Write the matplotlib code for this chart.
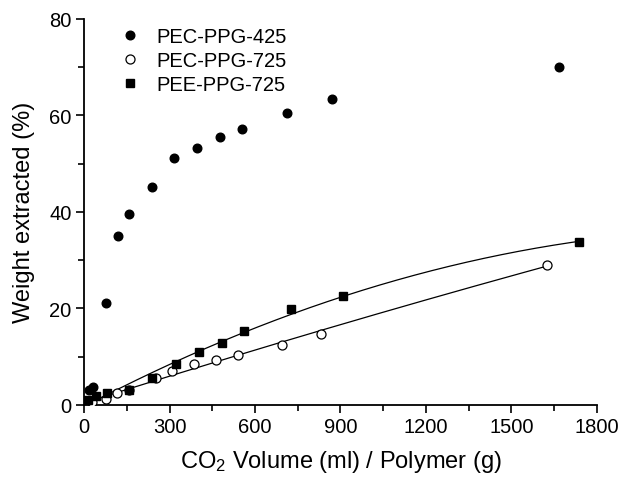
import numpy as np
import matplotlib
matplotlib.use("Agg")
import matplotlib.pyplot as plt

plt.rcParams['font.family'] = ['Liberation Sans', 'DejaVu Sans']
plt.rcParams['mathtext.fontset'] = 'custom'
plt.rcParams['mathtext.rm'] = 'Liberation Sans'
plt.rcParams['mathtext.it'] = 'Liberation Sans:italic'

# PEC-PPG-425 (filled circles)
pec425_x = [18, 32, 77, 118, 157, 237, 316, 395, 476, 554, 714, 872, 1667]
pec425_y = [3.1, 3.8, 21.1, 35.0, 39.6, 45.1, 51.1, 53.3, 55.4, 57.2, 60.5, 63.3, 70.0]

# PEC-PPG-725 (open circles)
pec725_x = [26, 76, 116, 157, 251, 308, 387, 464, 542, 696, 830, 1626]
pec725_y = [0.55, 1.3, 2.4, 3.1, 5.5, 7.0, 8.4, 9.4, 10.3, 12.4, 14.6, 29.0]

# PEE-PPG-725 (filled squares)
pee725_x = [12, 41, 79, 157, 239, 321, 402, 483, 562, 726, 910, 1736]
pee725_y = [1.0, 1.8, 2.4, 3.0, 5.5, 8.4, 11.0, 12.9, 15.3, 19.9, 22.6, 33.7]

labels = ["PEC-PPG-425", "PEC-PPG-725", "PEE-PPG-725"]
xticks = [0, 300, 600, 900, 1200, 1500, 1800]
yticks = [0, 20, 40, 60, 80]

fig = plt.figure(figsize=(6.23, 4.81), dpi=100)
ax = fig.add_axes([0.135, 0.156, 0.823, 0.803])

# quadratic fits for the two 725 series
for xs, ys in [(pec725_x, pec725_y), (pee725_x, pee725_y)]:
    c = np.polyfit(xs, ys, 2)
    xx = np.linspace(0, max(xs), 200)
    ax.plot(xx, np.polyval(c, xx), color='black', lw=0.9, zorder=1)

ax.plot(pec425_x, pec425_y, 'o', color='black', ms=6.2, label=labels[0], zorder=3)
ax.plot(pec725_x, pec725_y, 'o', mfc='white', mec='black', mew=0.9, ms=6.5,
        label=labels[1], zorder=3)
ax.plot(pee725_x, pee725_y, 's', color='black', ms=5.6, label=labels[2], zorder=3)

ax.set_xlim(0, 1800)
ax.set_ylim(0, 80)
ax.set_xticks(xticks)
ax.set_yticks(yticks)
ax.set_xticks(np.arange(150, 1800, 300), minor=True)
ax.set_yticks(np.arange(10, 80, 20), minor=True)
ax.tick_params(which='major', direction='out', length=6, width=1.2, labelsize=14.5, pad=3)
ax.tick_params(which='minor', direction='out', length=4, width=1.2)
for s in ['top', 'right']:
    ax.spines[s].set_visible(False)
for s in ['left', 'bottom']:
    ax.spines[s].set_linewidth(1.3)

ax.set_xlabel("CO$_2$ Volume (ml) / Polymer (g)", fontsize=17, labelpad=8)
ax.set_ylabel("Weight extracted (%)", fontsize=17, labelpad=10)

ax.legend(loc='upper left', bbox_to_anchor=(0.03, 1.025), frameon=False, fontsize=14.5,
          handletextpad=0.7, labelspacing=0.25, handlelength=1.2, markerscale=1.0)

fig.savefig("out.png", dpi=100)
